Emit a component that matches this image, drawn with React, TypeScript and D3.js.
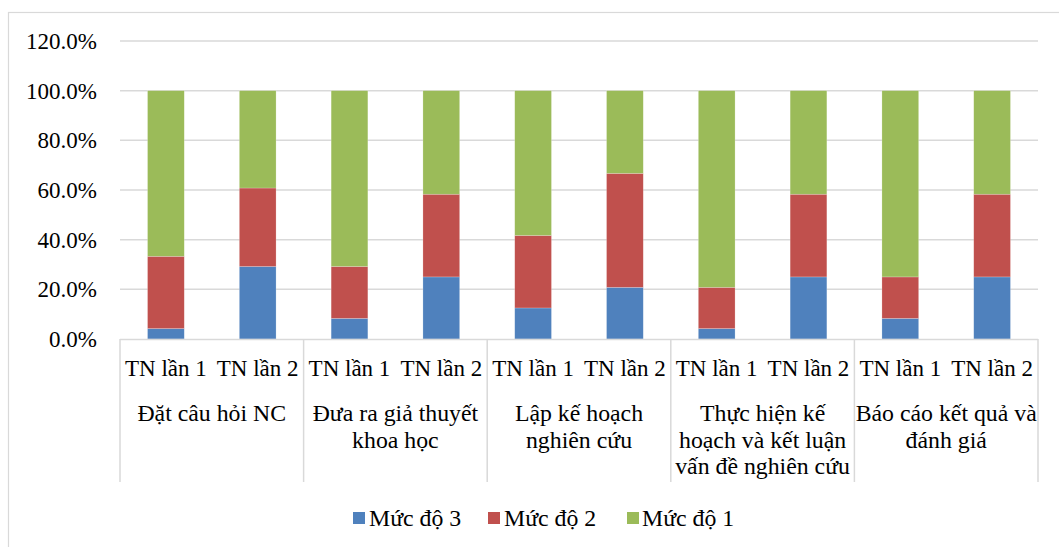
import React from "react";
import * as d3 from "d3";

const categories = [
  ["Đặt câu hỏi NC"],
  ["Đưa ra giả thuyết", "khoa học"],
  ["Lập kế hoạch", "nghiên cứu"],
  ["Thực hiện kế", "hoạch và kết luận", "vấn đề nghiên cứu"],
  ["Báo cáo kết quả và", "đánh giá"],
];
const trials = ["TN lần 1", "TN lần 2"];
const level3 = [4.2, 29.2, 8.3, 25.0, 12.5, 20.8, 4.2, 25.0, 8.3, 25.0];
const level2 = [29.1, 31.6, 20.9, 33.3, 29.2, 45.9, 16.6, 33.3, 16.7, 33.3];
const level1 = [66.7, 39.2, 70.8, 41.7, 58.3, 33.3, 79.2, 41.7, 75.0, 41.7];
const seriesNames = ["Mức độ 3", "Mức độ 2", "Mức độ 1"];
const yTicks = [0, 20, 40, 60, 80, 100, 120];

const colors = ["#4F81BD", "#C0504D", "#9BBB59"];
const W = 1059;
const H = 547;
const FONT = "Liberation Serif";

export default function App() {
  const left = 120;
  const right = 1038;
  const top = 41;
  const bottom = 339;

  const y = d3.scaleLinear().domain([0, 120]).range([bottom, top]);
  const rows = level3.map((v, i) => ({
    key: i,
    s3: v,
    s2: level2[i],
    s1: level1[i],
  }));
  const stack = d3.stack<any>().keys(["s3", "s2", "s1"]);
  const stacked = stack(rows);
  const xBar = d3
    .scaleBand<number>()
    .domain(rows.map((r) => r.key))
    .range([left, right])
    .paddingInner(0.6)
    .paddingOuter(0.3);
  const xCat = d3
    .scaleBand<number>()
    .domain(categories.map((_, i) => i))
    .range([left, right]);

  const gridColor = "#d9d9d9";
  const legendItems = [
    { x: 353, tx: 369 },
    { x: 488, tx: 504 },
    { x: 627, tx: 642 },
  ];

  return (
    <svg width={W} height={H} style={{ position: "absolute", left: 0, top: 0 }}>
      <rect x={0} y={0} width={W} height={H} fill="#fff" />
      <rect x={8.5} y={12.5} width={1070} height={560} fill="none" stroke={gridColor} strokeWidth={1.2} />
      {yTicks.map((t) => (
        <g key={t}>
          {t > 0 && (
            <line x1={left} x2={right} y1={y(t)} y2={y(t)} stroke={gridColor} strokeWidth={1.5} />
          )}
          <text x={97} y={y(t) + 8} textAnchor="end" fontFamily={FONT} fontSize={23} fill="#000">
            {d3.format(".1f")(t) + "%"}
          </text>
        </g>
      ))}
      {stacked.map((s, si) =>
        s.map((d, i) => (
          <rect
            key={si + "-" + i}
            x={xBar(i)}
            y={y(d[1])}
            width={xBar.bandwidth()}
            height={y(d[0]) - y(d[1])}
            fill={colors[si]}
            stroke="#fff"
            strokeOpacity={0.35}
            strokeWidth={0.6}
          />
        ))
      )}
      <line x1={left} x2={right} y1={bottom + 0.5} y2={bottom + 0.5} stroke={gridColor} strokeWidth={1.5} />
      {categories.map((_, i) => (
        <line
          key={"d" + i}
          x1={xCat(i)}
          x2={xCat(i)}
          y1={bottom}
          y2={482}
          stroke={gridColor}
          strokeWidth={1.5}
        />
      ))}
      <line x1={right} x2={right} y1={bottom} y2={482} stroke={gridColor} strokeWidth={1.5} />
      {rows.map((r, i) => (
        <text
          key={"t" + i}
          x={(xBar(i) as number) + xBar.bandwidth() / 2}
          y={376}
          textAnchor="middle"
          fontFamily={FONT}
          fontSize={23}
          fill="#000"
        >
          {trials[i % 2]}
        </text>
      ))}
      {categories.map((lines, i) => (
        <text
          key={"c" + i}
          x={(xCat(i) as number) + xCat.bandwidth() / 2}
          textAnchor="middle"
          fontFamily={FONT}
          fontSize={23.8}
          fill="#000"
        >
          {lines.map((l, j) => (
            <tspan key={j} x={(xCat(i) as number) + xCat.bandwidth() / 2} y={421 + j * 26.5}>
              {l}
            </tspan>
          ))}
        </text>
      ))}
      {seriesNames.map((n, i) => (
        <g key={n}>
          <rect x={legendItems[i].x} y={512} width={12} height={12} fill={colors[i]} />
          <text x={legendItems[i].tx} y={526} fontFamily={FONT} fontSize={23.8} fill="#000">
            {n}
          </text>
        </g>
      ))}
    </svg>
  );
}
